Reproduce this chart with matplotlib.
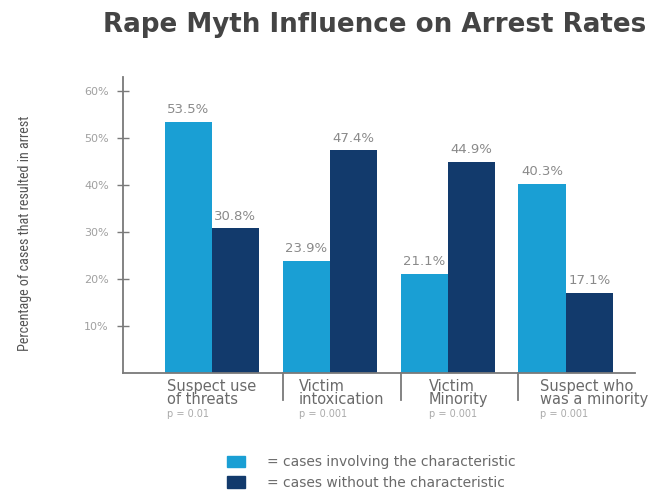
import matplotlib.pyplot as plt
from matplotlib.patches import Patch
import numpy as np

categories = ['Suspect use\nof threats', 'Victim\nintoxication', 'Victim\nMinority', 'Suspect who\nwas a minority']
p_values = ['p = 0.01', 'p = 0.001', 'p = 0.001', 'p = 0.001']
with_char = [53.5, 23.9, 21.1, 40.3]
without_char = [30.8, 47.4, 44.9, 17.1]
yticks = [10, 20, 30, 40, 50, 60]

light = '#1a9fd4'
dark = '#123a6c'
grey = '#7a7a7a'

fig = plt.figure(figsize=(6.53, 4.90), dpi=100)
ax = fig.add_axes([0.188, 0.239, 0.784, 0.604])

x = np.arange(len(categories))
w = 0.4
ax.bar(x - w / 2, with_char, w, color=light)
ax.bar(x + w / 2, without_char, w, color=dark)

for xi, v in zip(x - w / 2, with_char):
    ax.text(xi, v + 1.2, f'{v}%', ha='center', va='bottom', fontsize=9.5, color='#8a8a8a')
for xi, v in zip(x + w / 2, without_char):
    ax.text(xi, v + 1.2, f'{v}%', ha='center', va='bottom', fontsize=9.5, color='#8a8a8a')

ax.set_xlim(-0.754, 3.585)
ax.set_ylim(0, 63)
ax.set_yticks(yticks)
ax.set_yticklabels([f'{t}%' for t in yticks], fontsize=8, color='#a0a0a0')
ax.set_xticks([])
ax.tick_params(axis='y', direction='inout', length=8, width=1, color=grey, pad=6)

for s in ['top', 'right']:
    ax.spines[s].set_visible(False)
for s in ['left', 'bottom']:
    ax.spines[s].set_color(grey)
    ax.spines[s].set_linewidth(1.3)

# group separators below the axis
for i in range(len(categories) - 1):
    ax.plot([i + 0.6, i + 0.6], [0, -5.7], color=grey, lw=1.3, clip_on=False)

label_x = [-0.38, 0.74, 1.84, 2.78]
for lx, cat, p in zip(label_x, categories, p_values):
    ax.text(lx, -1.4, cat, ha='left', va='top', fontsize=10.5, color='#6a6a6a',
            linespacing=0.8, clip_on=False)
    ax.text(lx, -7.7, p, ha='left', va='top', fontsize=7, color='#aaaaaa', clip_on=False)

ax.set_ylabel('Percentage of cases that resulted in arrest',
              family=['Liberation Sans Narrow', 'Roboto Condensed', 'Open Sans Condensed', 'DejaVu Sans'],
              fontstretch='condensed', fontsize=10.2, color='#555555')
ax.yaxis.set_label_coords(-0.178, 0.47)

fig.text(0.158, 0.948, 'Rape Myth Influence on Arrest Rates', fontsize=18.8,
         fontweight='bold', color='#444444', ha='left', va='center')

handles = [Patch(color=light), Patch(color=dark)]
fig.legend(handles, ['= cases involving the characteristic', '= cases without the characteristic'],
           loc='upper left', bbox_to_anchor=(0.337, 0.085), frameon=False,
           fontsize=10, labelcolor='#6a6a6a', handlelength=1.3, handleheight=0.9,
           handletextpad=1.6, labelspacing=0.45, borderpad=0)

fig.savefig('out.png', dpi=100)
